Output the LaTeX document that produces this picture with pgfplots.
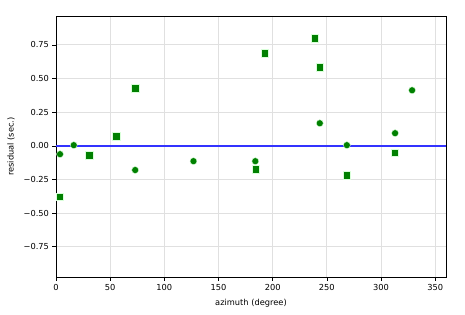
\documentclass[border=0pt]{standalone}
\usepackage{pgfplots}
\pgfplotsset{compat=1.18}
\usepackage{fontspec}
\setmainfont{DejaVu Sans}
\definecolor{mplgreen}{HTML}{008000}
\definecolor{mplblue}{RGB}{51,51,255}
\begin{document}
\begin{tikzpicture}
\useasboundingbox (-56bp,-38bp) rectangle (409bp,277bp);
\begin{axis}[
  at={(0,0)}, anchor=south west,
  scale only axis, width=390bp, height=261bp,
  xmin=0, xmax=360, ymin=-0.975, ymax=0.965,
  xtick={0,50,100,150,200,250,300,350},
  ytick={-0.75,-0.5,-0.25,0,0.25,0.5,0.75},
  yticklabels={−0.75,−0.50,−0.25,0.00,0.25,0.50,0.75},
  /pgf/number format/assume math mode=true,
  tick label style={font=\fontsize{8.3}{10}\selectfont},
  label style={font=\fontsize{8.3}{10}\selectfont},
  xlabel={azimuth (degree)}, ylabel={residual (sec.)},
  xlabel style={yshift=-2bp},
  ylabel style={yshift=2bp},
  grid=major, major grid style={draw=black!12, line width=0.9bp},
  tick align=outside, tick pos=left,
  major tick length=3.5bp,
  tick style={black, line width=0.6bp},
  axis line style={line width=0.8bp},
  clip=false,
]
\addplot[draw=mplblue, line width=2bp, mark=none] table {
x y
0 0
360 0
};
\addplot[only marks, mark=*, mark size=3.5bp, mark options={fill=mplgreen, draw=green!15!white, line width=0.4bp}] coordinates {
(3.7,-0.062) (16.4,0.005) (73.1,-0.18) (126.9,-0.114) (184,-0.114)
(243.5,0.168) (268.5,0.005) (313,0.094) (328.7,0.413)
};
\addplot[only marks, mark=square*, mark size=3.6bp, mark options={fill=mplgreen, draw=green!15!white, line width=0.4bp}] coordinates {
(3.7,-0.381) (30.6,-0.069) (55.6,0.072) (73.1,0.428) (184,-0.173)
(192.6,0.688) (238.9,0.8) (243.5,0.584) (268.5,-0.218) (313,-0.052)
};
\end{axis}
\end{tikzpicture}
\end{document}
